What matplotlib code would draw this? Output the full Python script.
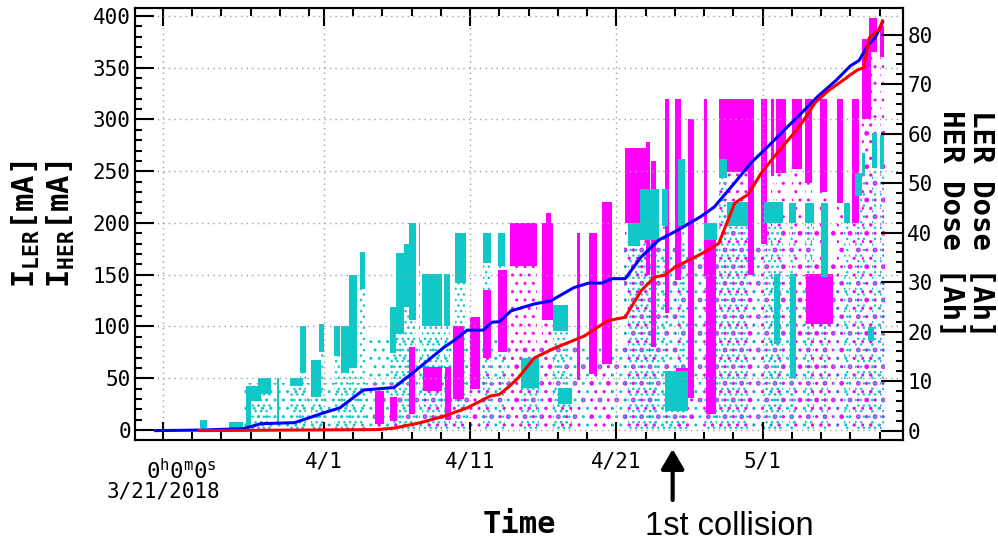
import matplotlib
matplotlib.use("Agg")
import matplotlib.pyplot as plt

plt.rcParams['font.family'] = 'DejaVu Sans Mono'
plt.rcParams['mathtext.fontset'] = 'custom'
plt.rcParams['mathtext.rm'] = 'DejaVu Sans Mono'
plt.rcParams['mathtext.it'] = 'DejaVu Sans Mono'
plt.rcParams['mathtext.bf'] = 'DejaVu Sans Mono:bold'
plt.rcParams['hatch.linewidth'] = 1.0

#All times are in days since 3/21/2018 0h0m0s

#Integrated dose [Ah]
her_dose_t = [-0.5, 2.6, 5.5, 6.0, 6.7, 9.0, 11.0, 12.1, 13.7, 15.8, 17.1, 19.2, 19.9, 20.8, 21.9,
              22.5, 23.0, 23.8, 25.4, 26.5, 28.1, 29.1, 30.0, 30.7, 31.6, 32.7, 33.9, 35.2, 36.8,
              37.7, 39.1, 40.2, 41.4, 42.5, 43.7, 44.8, 46.0, 47.0, 47.6, 48.2, 48.7, 49.2]
her_dose = [0, 0.1, 0.4, 0.8, 1.4, 1.6, 3.6, 4.6, 8.2, 8.7, 11.7, 16.8, 18.2, 20.3, 20.3,
            21.9, 22.0, 24.2, 25.6, 26.2, 28.9, 29.8, 29.8, 30.7, 30.7, 35.1, 38.5, 40.5, 43.3,
            45.2, 50.1, 54.1, 57.5, 60.8, 64.3, 67.6, 70.7, 73.7, 74.8, 77.9, 79.4, 82.5]
ler_dose_t = [2.5, 14.6, 15.8, 17.6, 19.2, 20.8, 22.4, 23.0, 23.7, 24.3, 25.4, 26.8, 28.8, 30.4,
              31.6, 32.7, 33.6, 34.3, 35.0, 36.8, 38.0, 39.1, 40.0, 40.9, 41.8, 43.0, 43.7, 44.6,
              45.5, 46.6, 47.0, 47.5, 47.9, 48.3, 49.0, 49.2]
ler_dose = [0, 0.2, 0.5, 1.6, 2.9, 4.6, 7.0, 7.3, 9.0, 10.7, 14.7, 16.7, 19.1, 22.2,
            22.9, 28.3, 31.0, 31.4, 33.0, 35.7, 37.8, 46.0, 47.7, 52.0, 55.4, 59.6, 62.2, 66.3,
            68.7, 71.0, 71.9, 72.9, 73.3, 79.4, 81.2, 82.8]

#Beam current [mA]: dense stretches (start, end, highest, lowest current)
ler_t0 = [14.5, 15.5, 16.8, 17.8, 19.3, 19.8, 21.0, 21.9, 22.9, 23.7, 25.9, 26.2, 27.0, 28.3,
          29.1, 30.0, 31.6, 33.0, 33.4, 34.3, 35.0, 35.1, 35.9, 37.0, 37.1, 38.0, 40.0, 40.9,
          41.6, 41.9, 43.0, 43.9, 44.0, 44.9, 46.1, 47.1, 47.8, 48.3, 49.0]
ler_t1 = [15.1, 16.0, 17.2, 19.1, 19.7, 20.6, 21.7, 22.4, 23.5, 25.6, 26.7, 26.5, 28.0, 28.5,
          29.7, 30.7, 33.0, 33.3, 33.7, 34.6, 35.4, 35.9, 36.3, 37.2, 37.8, 40.0, 40.4, 41.3,
          41.8, 42.6, 43.7, 44.4, 45.8, 45.4, 46.5, 47.6, 48.4, 48.8, 49.3]
ler_hi = [38, 32, 80, 61, 61, 100, 109, 135, 155, 200, 200, 210, 41, 190,
          190, 220, 272, 278, 260, 320, 320, 60, 300, 320, 200, 320, 320, 320,
          320, 320, 320, 320, 151, 320, 320, 320, 378, 398, 390]
ler_lo = [6, 9, 15, 38, 10, 30, 40, 70, 75, 158, 106, 190, 25, 48,
          54, 64, 200, 150, 80, 113, 145, 25, 31, 150, 15, 249, 150, 180,
          245, 248, 252, 239, 102, 230, 219, 200, 300, 365, 360]

her_t0 = [2.5, 4.5, 5.7, 6.0, 6.5, 7.8, 8.7, 9.4, 10.1, 10.7, 11.7, 12.2, 12.7, 13.5,
          15.5, 15.9, 16.5, 16.8, 17.5, 17.7, 19.2, 20.0, 21.9, 22.9, 24.5, 26.7, 27.0, 31.8,
          32.6, 33.4, 34.1, 34.3, 35.2, 37.0, 38.0, 38.6, 41.1, 41.8, 42.8, 42.9, 43.9, 45.0,
          46.6, 47.3, 47.8, 48.2, 48.5, 49.0]
her_t1 = [3.0, 5.5, 6.0, 6.7, 7.4, 7.95, 9.6, 9.8, 10.8, 11.0, 12.1, 12.7, 13.3, 13.8,
          15.9, 16.5, 16.8, 17.3, 17.6, 19.1, 19.6, 20.7, 22.4, 23.4, 25.7, 27.7, 28.0, 32.6,
          33.9, 33.8, 34.5, 35.9, 35.7, 37.9, 38.6, 40.0, 42.4, 42.2, 43.3, 43.3, 44.5, 45.5,
          47.0, 47.8, 48.0, 48.6, 48.8, 49.3]
her_hi = [10, 8, 42, 42, 50, 50, 50, 100, 68, 102, 100, 100, 150, 172,
          119, 171, 180, 200, 200, 151, 151, 190, 190, 190, 70, 121, 41, 200,
          233, 220, 233, 57, 262, 200, 262, 220, 220, 151, 219, 151, 219, 219,
          219, 248, 268, 99, 287, 285]
her_lo = [2, 2, 3, 28, 35, 5, 42, 55, 32, 75, 71, 55, 60, 136,
          74, 93, 119, 106, 158, 100, 100, 142, 161, 158, 41, 96, 25, 178,
          184, 194, 197, 18, 197, 184, 243, 197, 200, 83, 200, 50, 200, 148,
          200, 226, 245, 86, 253, 252]

#Scattered readings between the dense stretches (start, end, highest current)
ler_sp_t0 = [14.3, 23.6, 31.5, 38.0, 47.7]
ler_sp_t1 = [23.6, 31.5, 38.0, 47.7, 49.4]
ler_sp_hi = [45, 80, 180, 200, 300]
her_sp_t0 = [5.5, 14.0, 24.0, 31.5, 41.0]
her_sp_t1 = [14.0, 24.0, 31.5, 41.0, 49.4]
her_sp_hi = [45, 90, 80, 180, 150]

x_major = [0, 11, 21, 31, 41]
x_major_labels = ['', '4/1', '4/11', '4/21', '5/1']
x_minor = [2, 4, 6, 8, 10, 13, 15, 17, 19, 23, 25, 27, 29, 33, 35, 37, 39, 43, 45, 47, 49]
collision_day = 34.85

ler_color = '#FF00FF'
her_color = '#10C8C8'

fig = plt.figure(figsize=(9.98, 5.43), dpi=100)
ax = fig.add_axes([0.1353, 0.1897, 0.7695, 0.7956])
ax2 = ax.twinx()

#Scattered dots: a thin background field, then a tail below every dense stretch
for t0, t1, hi in zip(ler_sp_t0, ler_sp_t1, ler_sp_hi):
    ax.bar(t0, hi, width=t1 - t0, bottom=0, align='edge', facecolor='none',
           edgecolor=ler_color, hatch='.', linewidth=0)
for t0, t1, hi in zip(her_sp_t0, her_sp_t1, her_sp_hi):
    ax.bar(t0, hi, width=t1 - t0, bottom=0, align='edge', facecolor='none',
           edgecolor=her_color, hatch='..', linewidth=0)
for t0, t1, lo in zip(ler_t0, ler_t1, ler_lo):
    ax.bar(t0, lo, width=t1 - t0, bottom=0, align='edge', facecolor='none',
           edgecolor=ler_color, hatch='..', linewidth=0)
for t0, t1, lo in zip(her_t0, her_t1, her_lo):
    ax.bar(t0, lo, width=t1 - t0, bottom=0, align='edge', facecolor='none',
           edgecolor=her_color, hatch='...', linewidth=0)

#Dense stretches
ax.bar(ler_t0, [h - l for h, l in zip(ler_hi, ler_lo)], width=[b - a for a, b in zip(ler_t0, ler_t1)],
       bottom=ler_lo, align='edge', color=ler_color, linewidth=0)
ax.bar(her_t0, [h - l for h, l in zip(her_hi, her_lo)], width=[b - a for a, b in zip(her_t0, her_t1)],
       bottom=her_lo, align='edge', color=her_color, linewidth=0)

#Dose
ax2.plot(her_dose_t, her_dose, color='#0000FF', lw=2.2)
ax2.plot(ler_dose_t, ler_dose, color='#FF0000', lw=2.2)

ax.set_xlim(-1.91, 50.6)
ax.set_ylim(-9.7, 407.7)
ax2.set_ylim(-1.9, 85.4)

ax.set_xticks(x_major)
ax.set_xticklabels(x_major_labels)
ax.set_xticks(x_minor, minor=True)
ax.set_yticks(range(0, 401, 50))
ax.set_yticks(range(0, 401, 10), minor=True)
ax2.set_yticks(range(0, 81, 10))
ax2.set_yticks(range(0, 81, 2), minor=True)

ax.tick_params(axis='x', which='both', direction='in', top=True, bottom=True, width=1.5, labelsize=15, pad=8)
ax.tick_params(axis='x', which='major', length=13)
ax.tick_params(axis='x', which='minor', length=6)
ax.tick_params(axis='y', which='both', direction='in', width=1.5, labelsize=15, pad=3)
ax.tick_params(axis='y', which='major', length=14)
ax.tick_params(axis='y', which='minor', length=5)
ax2.tick_params(axis='y', which='both', direction='in', width=1.5, labelsize=15, pad=3)
ax2.tick_params(axis='y', which='major', length=16)
ax2.tick_params(axis='y', which='minor', length=5)
for a in (ax, ax2):
    for s in a.spines.values():
        s.set_linewidth(1.5)

ax.set_axisbelow(False)
ax.grid(True, which='major', color='#A0A0A0', linestyle=(0, (1, 3)), linewidth=1)

#Time offset label under the first tick
ax.annotate(r'$0^{h}0^{m}0^{s}$', xy=(0, 0), xycoords=ax.get_xaxis_transform(),
            xytext=(13, -22), textcoords='offset points', ha='center', va='center', fontsize=16)
ax.annotate('3/21/2018', xy=(0, 0), xycoords=ax.get_xaxis_transform(),
            xytext=(0, -37), textcoords='offset points', ha='center', va='center', fontsize=15)

ax.text(0.5, -0.195, 'Time', transform=ax.transAxes, ha='center', va='center',
        fontsize=22, fontweight='bold')
ax.text(-0.119, 0.5, r'$\mathbf{I_{LER}[mA]}$' + '\n' + r'$\mathbf{I_{HER}[mA]}$', transform=ax.transAxes,
        rotation=90, ha='center', va='center', fontsize=22, linespacing=1.1)
ax.text(1.083, 0.5, 'LER Dose [Ah]\nHER Dose [Ah]', transform=ax.transAxes, rotation=-90,
        ha='center', va='center', fontsize=21, fontweight='bold', linespacing=1.1)

#First collision marker
ax.annotate('', xy=(collision_day, -0.021), xycoords=ax.get_xaxis_transform(),
            xytext=(collision_day, -0.139), textcoords=ax.get_xaxis_transform(),
            arrowprops=dict(arrowstyle='-|>,head_length=0.6,head_width=0.35', color='black',
                            lw=3, mutation_scale=20, shrinkA=0, shrinkB=0), annotation_clip=False)
ax.text(38.75, -0.2, '1st collision', transform=ax.get_xaxis_transform(), ha='center', va='center',
        fontsize=23.5, family='Liberation Sans')

fig.savefig('out.png', dpi=100)
